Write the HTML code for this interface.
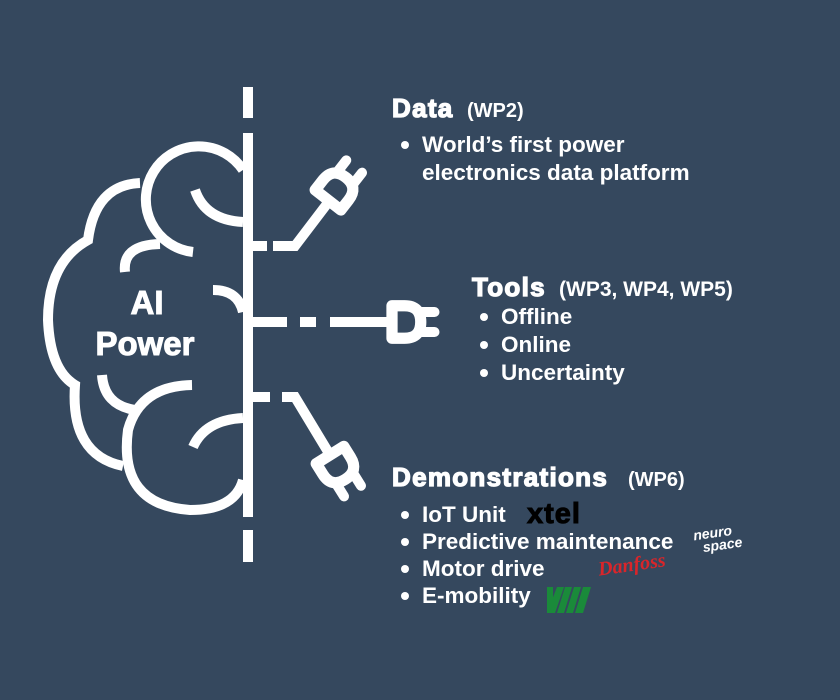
<!DOCTYPE html>
<html><head><meta charset="utf-8"><style>
html,body{margin:0;padding:0}
body{width:840px;height:700px;background:#35485e;position:relative;overflow:hidden;font-family:"Liberation Sans",Arial,sans-serif;color:#fff;font-weight:bold}
.t{position:absolute;white-space:nowrap}
</style></head><body>
<svg width="840" height="700" style="position:absolute;left:0;top:0" font-family="Liberation Sans,Arial,sans-serif" font-weight="bold">
<g fill="none" stroke="#fff" stroke-width="10">
<line x1="248" y1="87" x2="248" y2="118"/>
<line x1="248" y1="133" x2="248" y2="517"/>
<line x1="248" y1="530" x2="248" y2="562"/>
<path d="M243,170 A53,53 0 1 0 193,252"/>
<path d="M195,190 Q205,220 243,222"/>
<path d="M140,183 Q95,185 88,240 Q48,262 48,320 Q50,370 75,385 Q70,455 123,466"/>
<path d="M125,272 Q122,245 160,244"/>
<path d="M213,290 Q238,290 243,312"/>
<path d="M102,375 Q104,405 135,410"/>
<path d="M192,385 Q140,386 128,430 Q118,505 190,510 Q235,510 243,480"/>
<path d="M193,447 Q205,420 243,418"/>
<line x1="248" y1="246" x2="267" y2="246"/>
<path d="M273,246 L295,246 L330,200"/>
<line x1="248" y1="322" x2="287" y2="322"/>
<line x1="300" y1="322" x2="316" y2="322"/>
<line x1="330" y1="322" x2="392" y2="322"/>
<line x1="248" y1="397" x2="270" y2="397"/>
<path d="M282,397 L295,397 L330,455"/>
</g>
<defs><g id="plug" fill="none" stroke="#fff" stroke-linecap="round">
<path d="M0,-13 L10,-13 Q23,-13 23,0 Q23,13 10,13 L0,13 Z" stroke-linejoin="round" stroke-width="9"/>
<line x1="23" y1="-8" x2="34" y2="-8" stroke-width="8"/><line x1="23" y1="8" x2="34" y2="8" stroke-width="8"/>
</g></defs>
<use href="#plug" transform="translate(328,200) rotate(-52) scale(1.25)"/>
<use href="#plug" transform="translate(392,322) scale(1.25)"/>
<use href="#plug" transform="translate(330,455) rotate(58) scale(1.25)"/>
<g fill="#fff" stroke="#fff" stroke-width="1">
<text x="147" y="314" font-size="33" text-anchor="middle">AI</text>
<text x="145" y="355" font-size="33" text-anchor="middle">Power</text>
</g>
<g fill="#fff">
<text x="392" y="117" font-size="26" letter-spacing="1.3" stroke="#fff" stroke-width="1.3">Data</text>
<text x="467" y="117" font-size="20">(WP2)</text>
<text x="472" y="296" font-size="26" letter-spacing="1.3" stroke="#fff" stroke-width="1.3">Tools</text>
<text x="559" y="296" font-size="21">(WP3, WP4, WP5)</text>
<text x="392" y="486" font-size="26" letter-spacing="1.3" stroke="#fff" stroke-width="1.3">Demonstrations</text>
<text x="628" y="486" font-size="20">(WP6)</text>
<g font-size="22.5">
<text x="422" y="152">World’s first power</text>
<text x="422" y="180">electronics data platform</text>
<text x="501" y="324">Offline</text>
<text x="501" y="352">Online</text>
<text x="501" y="380">Uncertainty</text>
<text x="422" y="522">IoT Unit</text>
<text x="422" y="549">Predictive maintenance</text>
<text x="422" y="576">Motor drive</text>
<text x="422" y="603">E-mobility</text>
</g>
<circle cx="405" cy="145" r="4"/>
<circle cx="484" cy="317" r="4"/><circle cx="484" cy="345" r="4"/><circle cx="484" cy="373" r="4"/>
<circle cx="405" cy="515" r="4"/><circle cx="405" cy="542" r="4"/><circle cx="405" cy="569" r="4"/><circle cx="405" cy="596" r="4"/>
</g>
<text x="527" y="523" font-size="29" fill="#000" stroke="#000" stroke-width="1" letter-spacing="1">xtel</text>
</svg>
<div class="t" style="left:694px;top:526px;font-size:14px;line-height:13px;font-style:italic;transform:rotate(-8deg)">neuro<br>&nbsp;&nbsp;space</div>
<div class="t" style="left:598px;top:554px;font-size:20px;color:#d9252a;font-style:italic;font-family:'Liberation Serif',serif;transform:rotate(-8deg)">Danfoss</div>
<svg width="44" height="26" style="position:absolute;left:547px;top:587px"><g fill="#1a8a3a"><polygon points="0,26 10,0 17,0 8,26"/><polygon points="10,26 18,0 25,0 17,26"/><polygon points="19,26 27,0 34,0 26,26"/><polygon points="28,26 36,0 44,0 36,26"/><rect x="0" y="0" width="6" height="26"/></g></svg>
</body></html>
